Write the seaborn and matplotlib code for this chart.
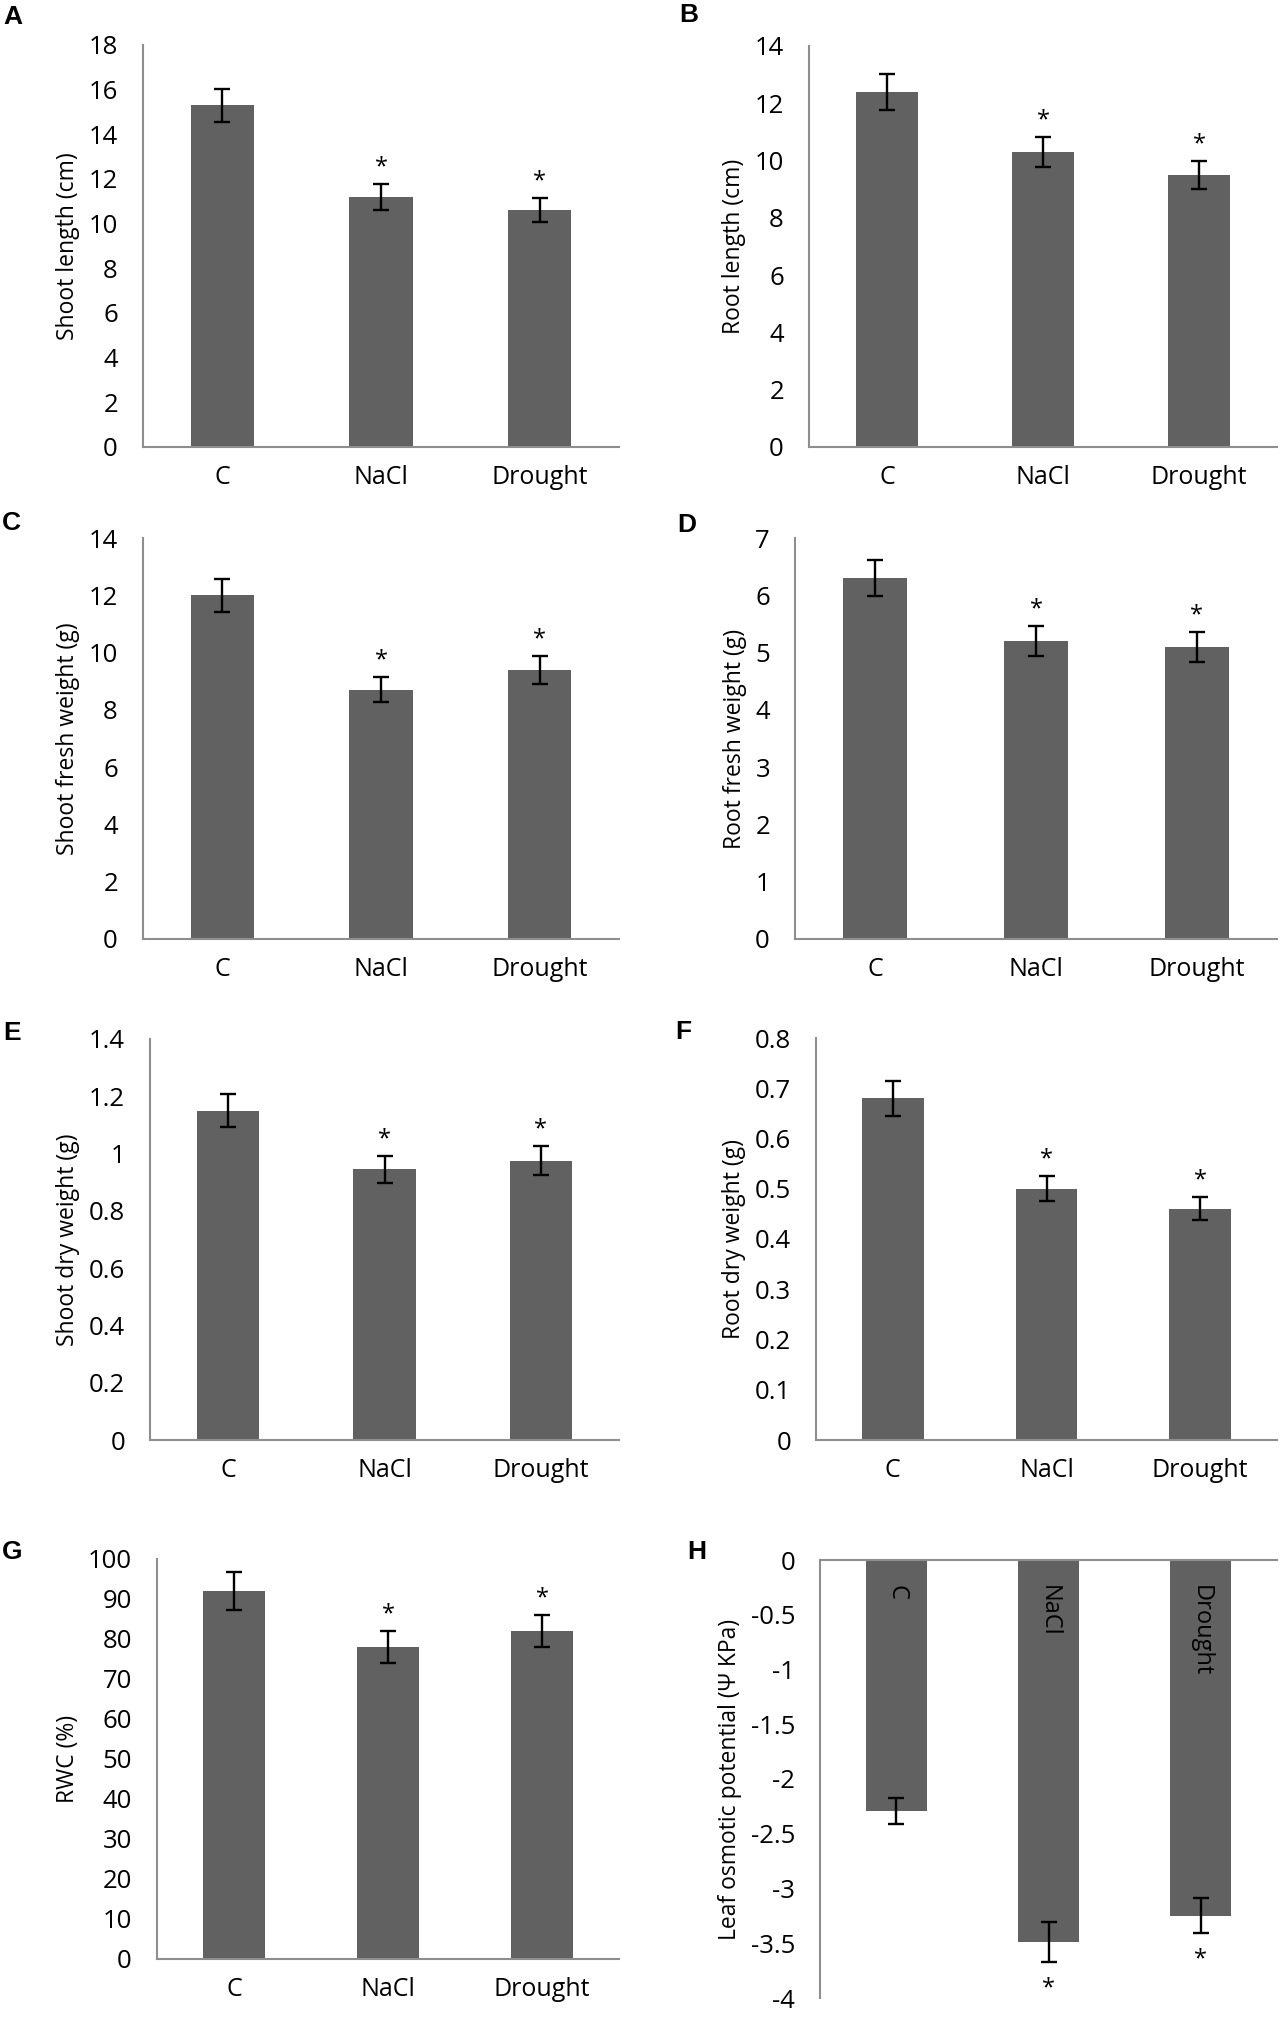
import pandas as pd
import matplotlib
matplotlib.use('Agg')
import matplotlib.pyplot as plt
from matplotlib.ticker import FixedLocator, StrMethodFormatter
import seaborn as sns

sns.set_style('white')
plt.rcParams['font.family'] = ['Open Sans', 'DejaVu Sans']
plt.rcParams['axes.unicode_minus'] = False
plt.rcParams['text.color'] = 'black'
plt.rcParams['axes.labelcolor'] = 'black'

# data (mean, error bar half-length)
treatments = ['C', 'NaCl', 'Drought']

shoot_length = [15.3, 11.2, 10.6]
shoot_length_err = [0.75, 0.57, 0.54]

root_length = [12.4, 10.3, 9.5]
root_length_err = [0.62, 0.52, 0.48]

shoot_fw = [12.0, 8.7, 9.4]
shoot_fw_err = [0.57, 0.43, 0.48]

root_fw = [6.3, 5.2, 5.1]
root_fw_err = [0.32, 0.26, 0.26]

shoot_dw = [1.15, 0.945, 0.975]
shoot_dw_err = [0.058, 0.048, 0.05]

root_dw = [0.68, 0.50, 0.46]
root_dw_err = [0.035, 0.025, 0.023]

rwc = [92, 78, 82]
rwc_err = [4.7, 4.0, 4.1]

osmotic = [-2.29, -3.49, -3.25]
osmotic_err = [0.12, 0.18, 0.16]

significant = [False, True, True]

BAR = '#616161'
AXIS = '#8e8e8e'
W, H = 1283, 2025


def place(fig, left, top, right, bottom):
    """add axes from pixel box"""
    return fig.add_axes([left / W, 1 - bottom / H, (right - left) / W, (bottom - top) / H])


def bar_panel(ax, values, errors, ylabel, yticks, negative=False):
    """Excel-like bar chart with error bars and asterisks"""
    df = pd.DataFrame({'treatment': treatments, 'value': values})
    sns.barplot(data=df, x='treatment', y='value', color=BAR, saturation=1,
                width=0.4, errorbar=None, linewidth=0, ax=ax)
    ax.errorbar(range(len(treatments)), values, yerr=errors, fmt='none',
                ecolor='black', elinewidth=1.7, capsize=6, capthick=1.7, zorder=3)
    ax.set_axisbelow(False)

    for i, sig in enumerate(significant):
        if not sig:
            continue
        if negative:
            ax.annotate('*', xy=(i, values[i] - errors[i]), xytext=(0, -19),
                        textcoords='offset points', ha='center', va='center',
                        fontsize=17, annotation_clip=False)
        else:
            ax.annotate('*', xy=(i, values[i] + errors[i]), xytext=(0, 12),
                        textcoords='offset points', ha='center', va='center',
                        fontsize=17, annotation_clip=False)

    ax.set_xlim(-0.5, len(treatments) - 0.5)
    ax.set_ylim(yticks[0], yticks[-1])
    ax.set_yticks(yticks)
    ax.yaxis.set_major_formatter(StrMethodFormatter('{x:g}'))
    ax.xaxis.set_minor_locator(FixedLocator([-0.5, 0.5, 1.5, 2.5]))

    ax.spines['top'].set_visible(False)
    ax.spines['right'].set_visible(False)
    for side in ['left', 'bottom']:
        ax.spines[side].set_color(AXIS)
        ax.spines[side].set_linewidth(1.5)

    ax.tick_params(axis='y', direction='out', length=7, width=1.5, color=AXIS,
                   labelsize=18.5, pad=11, labelcolor='black')
    ax.set_xlabel('')
    ax.set_ylabel(ylabel, fontsize=16.5, labelpad=6)

    if negative:
        ax.spines['bottom'].set_position(('data', 0))
        ax.tick_params(axis='x', which='major', length=0, labelsize=17, pad=18,
                       labelrotation=-90, labelcolor='black')
        ax.tick_params(axis='x', which='minor', direction='in', length=5,
                       width=1.5, color=AXIS)
        for lab in ax.get_xticklabels():
            lab.set_va('top')
    else:
        ax.tick_params(axis='x', which='major', length=0, labelsize=18, pad=13,
                       labelcolor='black')
        ax.tick_params(axis='x', which='minor', direction='out', length=8,
                       width=1.5, color=AXIS)


fig = plt.figure(figsize=(W / 100, H / 100), dpi=100)

panels = [
    ('A', (143, 45, 619, 447), (3, 17), shoot_length, shoot_length_err,
     'Shoot length (cm)', list(range(0, 19, 2)), False),
    ('B', (809, 46, 1277, 447), (679, 15), root_length, root_length_err,
     'Root length (cm)', list(range(0, 15, 2)), False),
    ('C', (143, 538, 619, 939), (2, 523), shoot_fw, shoot_fw_err,
     'Shoot fresh weight (g)', list(range(0, 15, 2)), False),
    ('D', (795, 538, 1277, 939), (677, 525), root_fw, root_fw_err,
     'Root fresh weight (g)', list(range(0, 8)), False),
    ('E', (150, 1039, 619, 1440), (3, 1033), shoot_dw, shoot_dw_err,
     'Shoot dry weight (g)', [0, 0.2, 0.4, 0.6, 0.8, 1, 1.2, 1.4], False),
    ('F', (816, 1038, 1277, 1440), (675, 1032), root_dw, root_dw_err,
     'Root dry weight (g)', [0, 0.1, 0.2, 0.3, 0.4, 0.5, 0.6, 0.7, 0.8], False),
    ('G', (157, 1559, 619, 1959), (2, 1552), rwc, rwc_err,
     'RWC (%)', list(range(0, 101, 10)), False),
    ('H', (820, 1560, 1277, 1998), (687, 1552), osmotic, osmotic_err,
     'Leaf osmotic potential (\u03a8 KPa)',
     [-4, -3.5, -3, -2.5, -2, -1.5, -1, -0.5, 0], True),
]

for letter, box, lpos, vals, errs, ylab, ticks, neg in panels:
    ax = place(fig, *box)
    bar_panel(ax, vals, errs, ylab, ticks, negative=neg)
    fig.text(lpos[0] / W, 1 - lpos[1] / H, letter, fontsize=19, fontweight='bold',
             family=['Liberation Sans', 'DejaVu Sans'], ha='left', va='center')

plt.savefig('out.png', dpi=100, facecolor='white')
plt.close()
